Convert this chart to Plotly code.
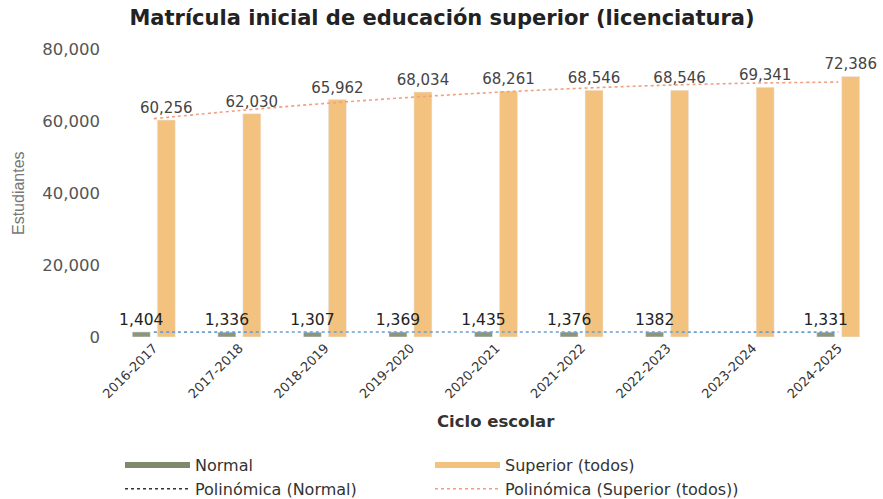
import numpy as np
import plotly.graph_objects as go

ciclos = ["2016-2017", "2017-2018", "2018-2019", "2019-2020", "2020-2021",
          "2021-2022", "2022-2023", "2023-2024", "2024-2025"]
normal = [1404, 1336, 1307, 1369, 1435, 1376, 1382, None, 1331]
normal_labels = ["1,404", "1,336", "1,307", "1,369", "1,435", "1,376", "1382", "", "1,331"]
superior = [60256, 62030, 65962, 68034, 68261, 68546, 68546, 69341, 72386]
superior_labels = ["60,256", "62,030", "65,962", "68,034", "68,261", "68,546", "68,546", "69,341", "72,386"]
y_ticks = [0, 20000, 40000, 60000, 80000]

# Polynomial (order 2) trendlines, as in the spreadsheet chart
idx = np.arange(1, len(ciclos) + 1)
cs = np.polyfit(idx, superior, 2)
trend_sup = np.polyval(cs, idx)
mask = np.array([v is not None for v in normal])
cn = np.polyfit(idx[mask], np.array([v for v in normal if v is not None], float), 2)
trend_norm = np.polyval(cn, idx)

C_NORMAL = "#8d967c"
C_SUP = "#f3c27f"
C_TSUP = "#f0a080"
C_TNORM = "#6a9fd0"
FONT = "DejaVu Sans"
BAR_W = 0.21

fig = go.Figure()
fig.add_trace(go.Bar(x=ciclos, y=superior, name="Superior (todos)", marker_color=C_SUP,
                     width=BAR_W, offset=0.041,
                     text=superior_labels, textposition="outside", cliponaxis=False,
                     constraintext="none",
                     textfont=dict(size=15, color="#444444", family=FONT),
                     showlegend=False))
fig.add_trace(go.Bar(x=ciclos, y=normal, name="Normal", marker_color=C_NORMAL,
                     width=BAR_W, offset=-0.251,
                     text=normal_labels, textposition="outside", cliponaxis=False,
                     constraintext="none",
                     textfont=dict(size=15.5, color="#222222", family=FONT),
                     showlegend=False))
fig.add_trace(go.Scatter(x=ciclos, y=trend_norm, mode="lines", showlegend=False,
                         line=dict(color=C_TNORM, width=1.6, dash="dot", shape="spline")))
fig.add_trace(go.Scatter(x=ciclos, y=trend_sup, mode="lines", showlegend=False,
                         line=dict(color=C_TSUP, width=1.6, dash="dot", shape="spline")))

# legend entries
fig.add_trace(go.Scatter(x=[None], y=[None], mode="lines", name="Normal",
                         line=dict(color="#7f8a6c", width=6)))
fig.add_trace(go.Scatter(x=[None], y=[None], mode="lines", name="Superior (todos)",
                         line=dict(color=C_SUP, width=6)))
fig.add_trace(go.Scatter(x=[None], y=[None], mode="lines", name="Polinómica (Normal)",
                         line=dict(color="#333333", width=1.5, dash="dot")))
fig.add_trace(go.Scatter(x=[None], y=[None], mode="lines", name="Polinómica (Superior (todos))",
                         line=dict(color=C_TSUP, width=1.5, dash="dot")))

fig.update_layout(
    width=883, height=499,
    margin=dict(l=111, r=2, t=49, b=162, autoexpand=False),
    paper_bgcolor="white", plot_bgcolor="white",
    font=dict(family=FONT, color="#444444"),
    barmode="overlay",
    title=dict(text="<b>Matrícula inicial de educación superior (licenciatura)</b>",
               x=442 / 883, xref="container", xanchor="center",
               y=1 - 18 / 499, yref="container", yanchor="middle",
               font=dict(size=21, color="#222222", family=FONT)),
    xaxis=dict(type="category", tickangle=-45, showgrid=False, showline=False,
               ticks="", tickfont=dict(size=13, color="#333333", family=FONT)),
    yaxis=dict(range=[0, 80000], tickvals=y_ticks, tickformat=",",
               showgrid=False, zeroline=False, showline=False, ticks="",
               ticklabelstandoff=10,
               tickfont=dict(size=16.5, color="#555555", family=FONT)),
    legend=dict(orientation="h", xref="container", yref="container",
                x=120 / 883, y=1 - 448 / 499, xanchor="left", yanchor="top",
                entrywidth=230, itemwidth=65,
                font=dict(size=16, color="#333333", family=FONT),
                traceorder="normal"),
    annotations=[
        dict(text="<b>Ciclo escolar</b>", xref="paper", yref="paper",
             x=0.5, y=(337 - 421) / 288, xanchor="center", yanchor="middle",
             showarrow=False,
             font=dict(size=16.5, color="#333333", family=FONT)),
        dict(text="Estudiantes", xref="paper", yref="paper", textangle=-90,
             x=(18 - 111) / 770, y=0.5, xanchor="center", yanchor="middle",
             showarrow=False,
             font=dict(size=16, color="#777777", family="Liberation Sans")),
    ],
)

fig.write_html("out.html", config={"displayModeBar": False},
               post_script="document.body.style.margin='0px';")
